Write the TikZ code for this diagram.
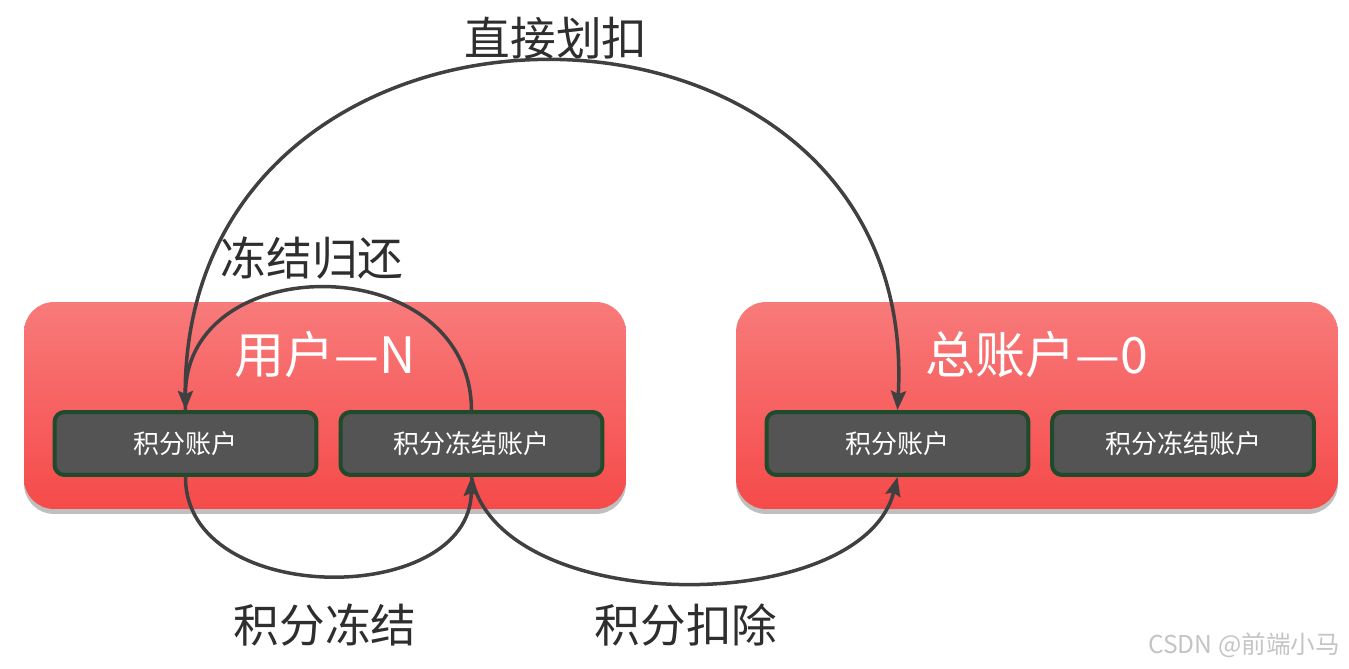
\documentclass[tikz,border=0pt]{standalone}
\usepackage{fontspec}
\setmainfont{Noto Sans CJK SC}
\usepackage{xcolor}
\usetikzlibrary{
  arrows.meta,
  shadows
}
\definecolor{panelTopC}{HTML}{F87A7A}
\definecolor{panelBotC}{HTML}{F64A4A}
\definecolor{acctC}{HTML}{545454}
\definecolor{edgeC}{HTML}{1F4A2C}
\definecolor{flowC}{HTML}{404040}
\definecolor{textC}{HTML}{2E2E2E}
\definecolor{markC}{HTML}{C4C4C4}

\tikzset{
  panel/.style={
    rounded corners=0.6cm,
    top color=panelTopC,
    bottom color=panelBotC,
    draw=none,
    minimum width=12.04cm,
    minimum height=4.14cm,
    drop shadow={shadow xshift=0pt, shadow yshift=-0.1cm, opacity=0.25, fill=black}
  },
  acct/.style={
    rounded corners=0.2cm,
    fill=acctC,
    draw=edgeC,
    line width=0.08cm,
    minimum width=5.24cm,
    minimum height=1.26cm,
    text=white,
    font=\fontsize{14.8}{17}\selectfont
  },
  heading/.style={text=white, font=\fontsize{28.5}{32}\selectfont},
  flowlabel/.style={text=textC, font=\fontsize{26}{30}\selectfont},
  flow/.style={
    draw=flowC,
    line width=0.07cm,
    -{Stealth[length=0.38cm, width=0.3cm, inset=0.06cm]}
  }
}

\begin{document}
\begin{tikzpicture}[
  x=0.02cm,
  y=0.02cm,
  line cap=round,
  line join=round
]

\useasboundingbox (0,0) rectangle (1349,669);

% Two owners with their account pairs.
\node[panel] (user) at (325,263.5) {};
\node[panel] (total) at (1037,263.5) {};
\node[heading] (userT) at (325,314) {用户—N};
\node[heading] (totalT) at (1037,314) {总账户—0};

\node[acct] (ua) at (185.5,225.5) {积分账户};
\node[acct] (uf) at (471.5,225.5) {积分冻结账户};
\node[acct] (ta) at (897.5,225.5) {积分账户};
\node[acct] (tf) at (1183,225.5) {积分冻结账户};

% Point flows between the accounts.
\draw[flow] (ua.north) .. controls (168,724) and (922,724) .. (ta.north);
\draw[flow] (uf.north) .. controls (470,421) and (185,421) .. (ua.north);
\draw[flow] (ua.south) .. controls (185,61) and (470,61) .. (uf.south);
\draw[flow] (uf.south) .. controls (500,51) and (862,51) .. (ta.south);

\node[flowlabel] (direct) at (556,631) {直接划扣};
\node[flowlabel] (release) at (312,411) {冻结归还};
\node[flowlabel] (freeze) at (325,44) {积分冻结};
\node[flowlabel] (deduct) at (686,44) {积分扣除};

% Watermark.
\node[text=markC, font=\fontsize{14}{16}\selectfont] (mark) at (1244,24) {CSDN @前端小马};

\end{tikzpicture}
\end{document}
